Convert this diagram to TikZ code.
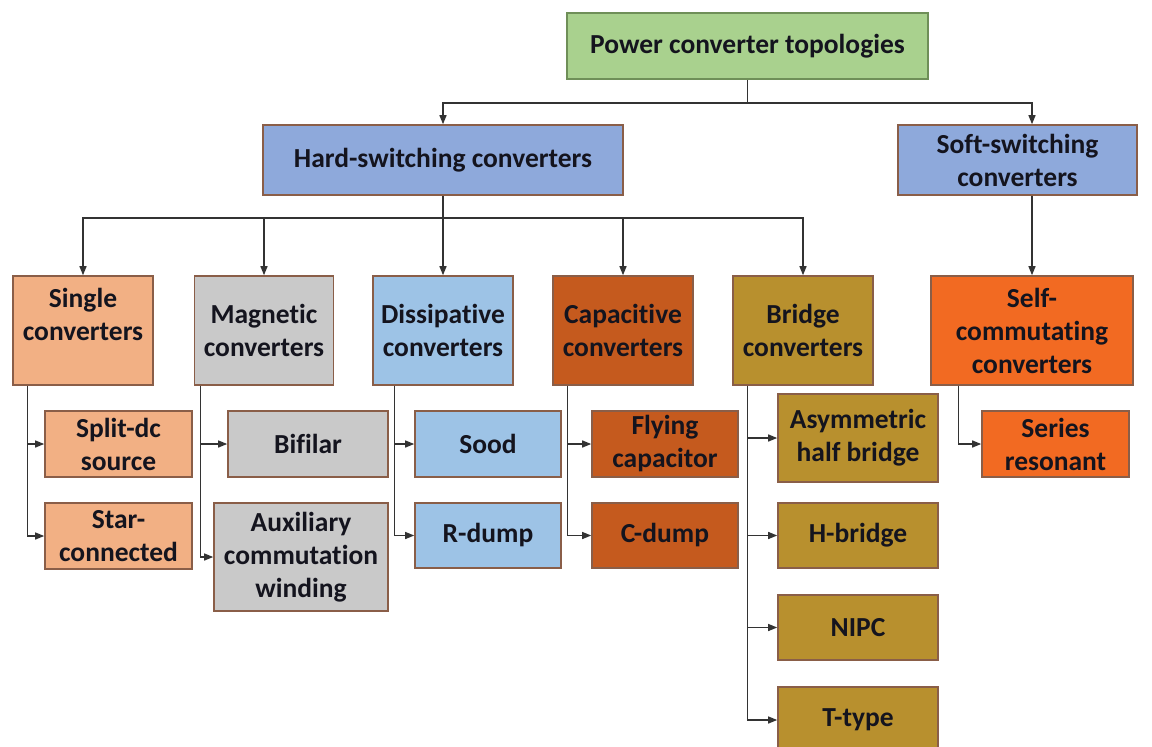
\documentclass[tikz,border=0pt]{standalone}
\usepackage{fontspec}
\setmainfont{Carlito}[Ligatures=NoCommon]
\usetikzlibrary{arrows.meta,calc}
\definecolor{edgecol}{HTML}{8A5E48}
\definecolor{rootedge}{HTML}{6F8F58}
\definecolor{txtcol}{HTML}{14141E}
\definecolor{linkcol}{HTML}{333333}
\definecolor{cgreen}{HTML}{A9D18E}
\definecolor{cblue}{HTML}{8EA9DB}
\definecolor{cpeach}{HTML}{F2B084}
\definecolor{cgray}{HTML}{C9C9C9}
\definecolor{clblue}{HTML}{9DC3E6}
\definecolor{crust}{HTML}{C55A1E}
\definecolor{cgold}{HTML}{B8902E}
\definecolor{corange}{HTML}{F26A22}
\tikzset{
  box/.style={draw=edgecol, line width=1.6pt, inner sep=0pt, align=center,
    text=txtcol, font=\bfseries\fontsize{27.5}{33}\selectfont},
  link/.style={draw=linkcol, line width=1.3pt},
  arr/.style={link, -{Triangle[length=9pt,width=7pt]}},
}
\begin{document}
\begin{tikzpicture}[x=1pt,y=-1pt]
\useasboundingbox (0,0) rectangle (1152,747);
\clip (0,0) rectangle (1152,747);
\fill[white] (0,0) rectangle (1152,747);

% top levels
\node[box, draw=rootedge, fill=cgreen, minimum width=361pt, minimum height=66pt] (root) at (747.5,46) {Power converter topologies};
\node[box, fill=cblue, minimum width=360pt, minimum height=70pt] (hard) at (443,160) {Hard-switching converters};
\node[box, fill=cblue, minimum width=239pt, minimum height=70pt] (soft) at (1017.5,160) {Soft-switching\\converters};

% converter families
\node[box, fill=cpeach, minimum width=140pt, minimum height=109pt] (single) at (83,330.5) {Single\\converters\\\mbox{}};
\node[box, fill=cgray, minimum width=139pt, minimum height=109pt] (magnetic) at (264,330.5) {Magnetic\\converters};
\node[box, fill=clblue, minimum width=140pt, minimum height=109pt] (dissip) at (443,330.5) {Dissipative\\converters};
\node[box, fill=crust, minimum width=140pt, minimum height=109pt] (capac) at (623,330.5) {Capacitive\\converters};
\node[box, fill=cgold, minimum width=140pt, minimum height=109pt] (bridge) at (803,330.5) {Bridge\\converters};
\node[box, fill=corange, minimum width=202pt, minimum height=109pt] (self) at (1032,330.5) {Self-\\commutating\\converters};

% members
\node[box, fill=cpeach, minimum width=147pt, minimum height=66pt] (split) at (118.5,444) {Split-dc\\source};
\node[box, fill=cpeach, minimum width=147pt, minimum height=66pt] (star) at (118.5,536) {Star-\\connected};
\node[box, fill=cgray, minimum width=160pt, minimum height=66pt] (bifilar) at (308,444) {Bifilar};
\node[box, fill=cgray, minimum width=174pt, minimum height=108pt] (aux) at (301,557) {Auxiliary\\commutation\\winding};
\node[box, fill=clblue, minimum width=146pt, minimum height=66pt] (sood) at (488,444) {Sood};
\node[box, fill=clblue, minimum width=146pt, minimum height=65pt] (rdump) at (488,535.5) {R-dump};
\node[box, fill=crust, minimum width=146pt, minimum height=66pt] (flying) at (665,444) {Flying\\capacitor};
\node[box, fill=crust, minimum width=146pt, minimum height=65pt] (cdump) at (665,535.5) {C-dump};
\node[box, fill=cgold, minimum width=160pt, minimum height=88pt] (asym) at (858,438) {Asymmetric\\half bridge};
\node[box, fill=cgold, minimum width=160pt, minimum height=65pt] (hbr) at (858,535.5) {H-bridge};
\node[box, fill=cgold, minimum width=160pt, minimum height=65pt] (nipc) at (858,627.5) {NIPC};
\node[box, fill=cgold, minimum width=160pt, minimum height=66pt] (ttype) at (858,720) {T-type};
\node[box, fill=corange, minimum width=147pt, minimum height=66pt] (series) at (1055.5,444) {Series\\resonant};

% root -> switching classes
\coordinate (j1) at (747.5,103);
\draw[link] (root.south) -- (j1);
\draw[arr] (j1) -| (hard.north);
\draw[arr] (j1) -| ([xshift=14.5pt]soft.north);

% hard-switching -> families
\coordinate (j2) at (443,218);
\draw[link] (hard.south) -- (j2);
\foreach \n in {single,magnetic,dissip,capac,bridge}
  \draw[arr] (j2) -| (\n.north);
\draw[arr] (soft.south -| self.north) -- (self.north);

% family rails
\draw[arr] ([xshift=15pt]single.south west) |- (split.west);
\draw[arr] ([xshift=15pt]single.south west) |- (star.west);
\draw[arr] ([xshift=7pt]magnetic.south west) |- (bifilar.west);
\draw[arr] ([xshift=7pt]magnetic.south west) |- (aux.west);
\draw[arr] ([xshift=22pt]dissip.south west) |- (sood.west);
\draw[arr] ([xshift=22pt]dissip.south west) |- (rdump.west);
\draw[arr] ([xshift=15pt]capac.south west) |- (flying.west);
\draw[arr] ([xshift=15pt]capac.south west) |- (cdump.west);
\draw[arr] ([xshift=15pt]bridge.south west) |- (asym.west);
\draw[arr] ([xshift=15pt]bridge.south west) |- (hbr.west);
\draw[arr] ([xshift=15pt]bridge.south west) |- (nipc.west);
\draw[arr] ([xshift=15pt]bridge.south west) |- (ttype.west);
\draw[arr] ([xshift=28pt]self.south west) |- (series.west);
\end{tikzpicture}
\end{document}
